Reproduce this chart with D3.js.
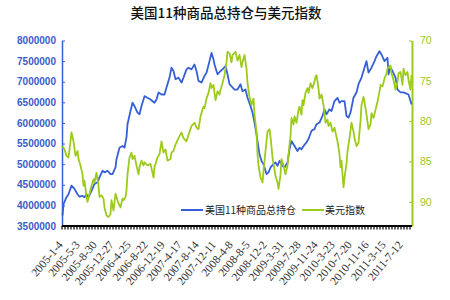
<!DOCTYPE html>
<html><head><meta charset="utf-8">
<script src="https://cdn.jsdelivr.net/npm/d3@7"></script>
<style>body{margin:0;background:#fff}</style>
</head><body>
<svg id="c" width="450" height="300"></svg>
<script>
const title = "美国11种商品总持仓与美元指数";
const seriesNames = ["美国11种商品总持仓", "美元指数"];
const startDate = "2005-01-04";
const weekCount = 350;
const xLabels = ["2005-1-4","2005-5-3","2005-8-30","2005-12-27","2006-4-25","2006-8-22","2006-12-19","2007-4-17","2007-8-14","2007-12-11","2008-4-8","2008-8-5","2008-12-2","2009-3-31","2009-7-28","2009-11-24","2010-3-23","2010-7-20","2010-11-16","2011-3-15","2011-7-12"];
const leftTicks = [3500000,4000000,4500000,5000000,5500000,6000000,6500000,7000000,7500000,8000000];
const rightTicks = [70,75,80,85,90];

// weekly samples (week index from 2005-01-04)
const blueWeeks = [0,1,4,6,9,12,15,17,20,22,24,26,29,32,35,37,40,42,45,48,50,53,54,57,60,62,64,65,68,70,72,75,77,79,82,85,88,92,94,96,99,102,104,107,109,111,113,116,119,121,124,126,129,132,134,136,139,142,144,147,149,151,152,155,158,160,163,165,167,169,172,175,178,180,183,185,188,190,192,194,195,197,199,201,204,206,208,211,213,215,217,220,222,225,227,229,232,235,237,239,241,244,246,249,252,254,257,260,262,264,267,269,272,275,277,279,282,284,286,288,291,294,296,299,301,304,306,309,312,314,317,319,322,325,326,328,330,333,335,338,341,344,346,349];
const blueVals = [3750000,4030000,4200000,4270000,4480000,4400000,4270000,4210000,4230000,4200000,4270000,4200000,4350000,4520000,4560000,4680000,4840000,4800000,4840000,4760000,4760000,4920000,5120000,5400000,5440000,5400000,5650000,5970000,6290000,6490000,6410000,6250000,6210000,6410000,6650000,6610000,6570000,6490000,6570000,6740000,6690000,6690000,6860000,7100000,7340000,7260000,7060000,7100000,6980000,7100000,7300000,7340000,7300000,7420000,7260000,7020000,6980000,7140000,7220000,7500000,7700000,7540000,7420000,7180000,7260000,7300000,7380000,7180000,6940000,6890000,6810000,6810000,6940000,6770000,6810000,6610000,6410000,6250000,6010000,5730000,5560000,5240000,5080000,5000000,4760000,4800000,4920000,5000000,5040000,4960000,5080000,4960000,4920000,5040000,5360000,5560000,5440000,5320000,5400000,5360000,5440000,5530000,5610000,5810000,5850000,5970000,6010000,6170000,6330000,6210000,6330000,6290000,6530000,6610000,6490000,6530000,6530000,6170000,6130000,6250000,6610000,6740000,6940000,7100000,7260000,7500000,7220000,7340000,7500000,7620000,7740000,7660000,7500000,7580000,7180000,7340000,7260000,7100000,6810000,6740000,6740000,6710000,6690000,6450000];
const greenWeeks = [0,2,4,6,8,9,11,13,15,16,18,20,21,22,24,25,27,29,31,32,34,36,37,39,41,42,44,46,48,49,51,53,54,56,58,60,61,63,64,65,67,69,70,72,74,76,77,79,81,82,85,88,91,92,95,97,99,101,103,105,108,109,111,113,116,119,121,124,126,129,132,134,136,138,141,142,144,146,148,149,151,152,153,155,157,158,160,162,164,165,167,169,170,173,175,177,179,180,182,184,185,187,189,191,192,194,195,196,198,200,201,203,205,207,208,210,212,213,215,216,218,219,221,223,225,227,228,229,231,232,234,236,237,239,240,241,243,245,246,248,250,252,253,254,256,257,259,261,263,265,266,268,270,272,273,275,277,278,279,280,281,282,284,285,287,289,291,292,294,296,298,299,301,302,304,306,308,309,311,313,315,317,318,320,322,324,325,326,328,329,331,333,335,336,338,340,341,343,345,346,348,349];
const greenVals = [83.1,83.5,84.3,84.5,82.5,81.4,82.5,84.3,83.7,84.7,85.5,86.6,88.0,87.4,89.4,90.0,89.0,88.0,87.2,87.6,86.4,88.0,89.4,89.2,89.6,90.7,91.7,91.9,91.5,89.8,91.1,89.0,89.4,90.2,90.7,89.6,89.8,89.4,88.6,86.6,84.5,83.9,84.7,84.3,85.5,86.6,85.7,84.9,85.5,85.1,85.5,85.3,87.0,85.7,84.5,84.1,82.5,83.9,83.5,84.9,84.7,83.9,83.7,82.9,82.1,81.4,82.1,82.5,81.7,80.6,80.2,80.8,81.0,79.4,78.2,78.4,77.2,76.5,75.3,75.9,75.5,76.5,77.4,76.3,76.7,76.1,75.3,74.3,72.7,71.4,71.6,72.7,71.8,71.4,72.5,71.8,73.3,72.7,71.8,73.5,75.3,77.0,78.0,77.2,79.2,81.3,84.1,85.5,87.0,87.6,86.2,83.7,81.3,81.0,81.9,84.5,86.0,86.8,87.6,88.4,86.6,84.7,85.5,86.6,85.5,82.9,81.9,79.6,80.4,79.4,80.2,78.6,78.2,79.2,77.4,78.0,76.5,75.9,76.5,75.3,75.9,75.1,74.5,74.3,75.9,77.2,76.7,78.0,80.2,79.8,80.6,80.2,81.3,80.8,81.4,82.5,84.1,85.7,84.9,86.6,88.2,87.0,85.3,83.7,82.1,80.2,81.3,82.1,83.1,82.7,80.0,78.0,77.0,77.6,79.2,81.0,80.4,79.0,79.6,78.6,77.6,76.3,75.5,75.7,74.7,74.1,73.5,73.3,73.1,74.1,74.9,76.1,75.1,74.1,73.9,75.5,73.5,74.3,73.9,74.9,76.1,74.3];

const colors = {blue:"#3560d6", green:"#9ccb1a"};
const M = {left:62, right:412, top:40.5, bottom:226};

const svg = d3.select("#c");
svg.append("rect").attr("width",450).attr("height",300).attr("fill","#fff");

const x = d3.scaleLinear().domain([-0.5, weekCount-0.5]).range([M.left, M.right]);
const yL = d3.scaleLinear().domain([3500000, 8000000]).range([M.bottom, M.top]);
const yR = d3.scaleLinear().domain([70, 93]).range([M.top, M.bottom]);

svg.append("text").attr("x",226).attr("y",18).attr("text-anchor","middle")
  .attr("font-family","'Noto Sans CJK SC'").attr("font-size",13.5).attr("font-weight",500)
  .attr("fill","#111").text(title);

// left axis
const gL = svg.append("g").attr("transform",`translate(${M.left},0)`)
  .call(d3.axisLeft(yL).tickValues(leftTicks).tickFormat(d3.format("d")).tickSizeInner(-3).tickSizeOuter(0).tickPadding(6));
gL.select(".domain").attr("stroke",colors.blue).attr("stroke-width",1.5);
gL.selectAll(".tick line").attr("stroke",colors.blue);
gL.selectAll("text").attr("fill","#3a5cc8").attr("font-family","'Liberation Sans'").attr("font-size",10).attr("font-weight","bold");

// right axis
const gR = svg.append("g").attr("transform",`translate(${M.right},0)`)
  .call(d3.axisRight(yR).tickValues(rightTicks).tickSizeInner(-3).tickSizeOuter(0).tickPadding(8));
gR.select(".domain").attr("stroke",colors.green).attr("stroke-width",2);
gR.selectAll(".tick line").attr("stroke",colors.green);
gR.selectAll("text").attr("fill","#9cc628").attr("font-family","'Liberation Sans'").attr("font-size",10.5);

// bottom axis
const parseDay = d3.timeParse("%Y-%m-%d");
const t0 = parseDay(startDate);
const labelWeeks = xLabels.map(s => Math.round((parseDay(s) - t0) / (7*864e5)));
const gB = svg.append("g");
gB.append("line").attr("x1",M.left).attr("x2",M.right).attr("y1",M.bottom).attr("y2",M.bottom)
  .attr("stroke","#000").attr("stroke-width",2);
gB.selectAll("line.tk").data(d3.range(0, weekCount, 3)).join("line").attr("class","tk")
  .attr("x1",d=>x(d)-0.5).attr("x2",d=>x(d)-0.5).attr("y1",M.bottom).attr("y2",M.bottom+3.5)
  .attr("stroke","#000").attr("stroke-width",1.2);
gB.selectAll("text").data(xLabels).join("text")
  .attr("transform",(d,i)=>`translate(${x(labelWeeks[i])+1},${M.bottom+19}) rotate(-50)`)
  .attr("text-anchor","end").attr("font-family","'Liberation Serif'").attr("font-size",11.5)
  .attr("fill","#333").text(d=>d);

// lines
const lineB = d3.line().x(d=>x(d[0])).y(d=>yL(d[1]));
const lineG = d3.line().x(d=>x(d[0])).y(d=>yR(d[1]));
svg.append("path").datum(blueWeeks.map((w,i)=>[w,blueVals[i]])).attr("d",lineB)
  .attr("fill","none").attr("stroke",colors.blue).attr("stroke-width",1.8).attr("stroke-linejoin","round");
svg.append("path").datum(greenWeeks.map((w,i)=>[w,greenVals[i]])).attr("d",lineG)
  .attr("fill","none").attr("stroke",colors.green).attr("stroke-width",1.8).attr("stroke-linejoin","round");

// legend
const lg = svg.append("g");
const legendItems = [{name:seriesNames[0], c:colors.blue, x:181, tx:205},{name:seriesNames[1], c:colors.green, x:302, tx:325}];
legendItems.forEach(it=>{
  lg.append("line").attr("x1",it.x).attr("x2",it.x+22).attr("y1",210).attr("y2",210).attr("stroke",it.c).attr("stroke-width",2);
  lg.append("text").attr("x",it.tx).attr("y",214).attr("font-family","'Noto Sans CJK SC'").attr("font-size",10)
    .attr("fill","#222").text(it.name);
});
</script>
</body></html>
